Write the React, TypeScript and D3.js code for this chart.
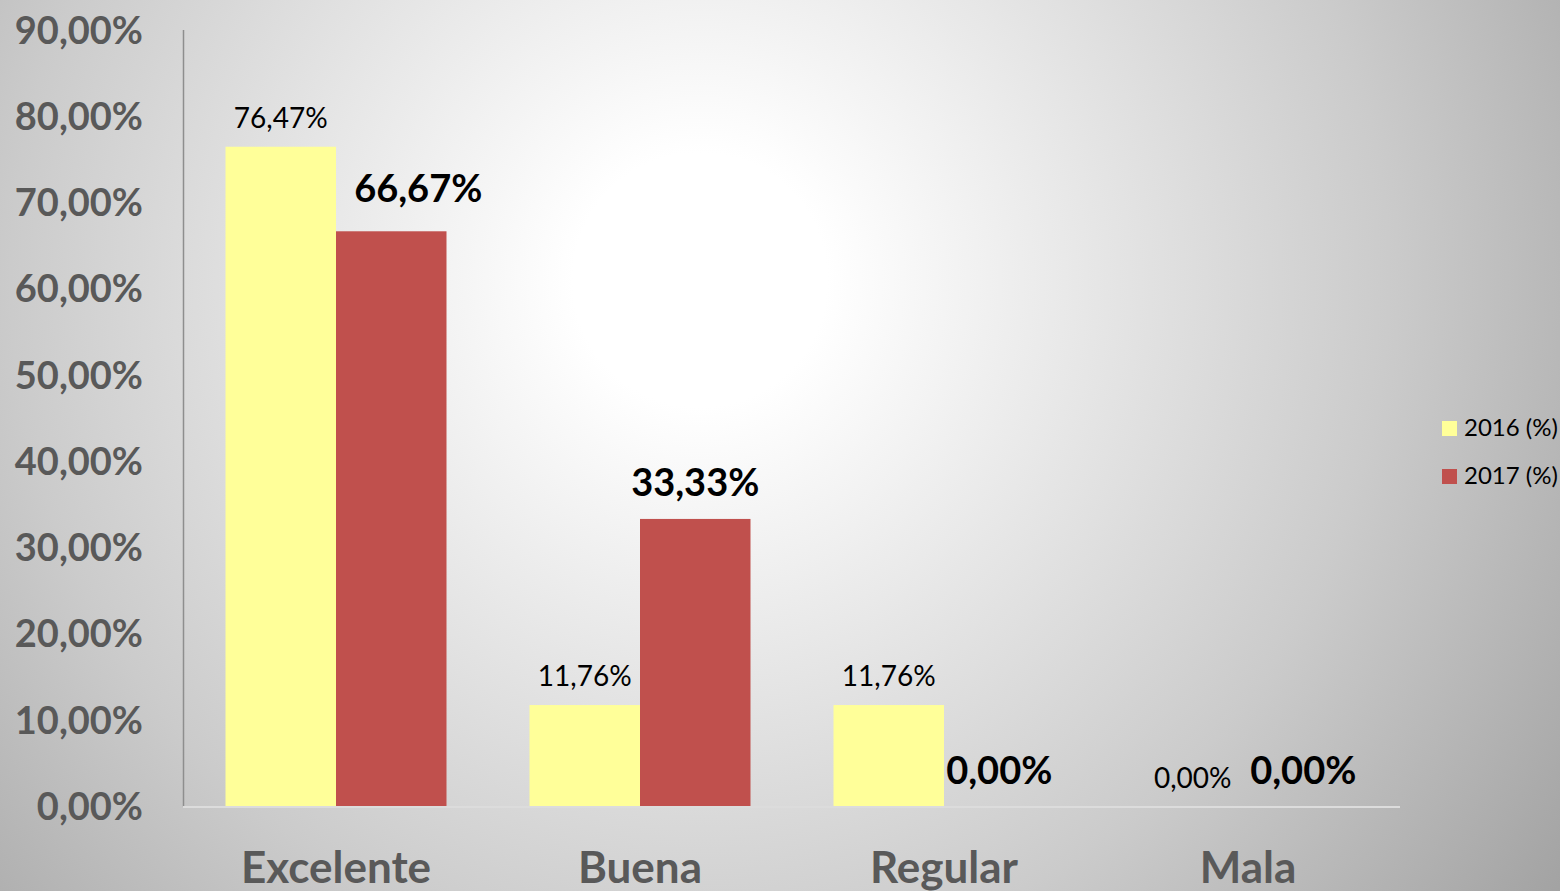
import React from "react";
import * as d3 from "d3";

const categories = ["Excelente", "Buena", "Regular", "Mala"];
const seriesNames = ["2016 (%)", "2017 (%)"];
const values2016 = [76.47, 11.76, 11.76, 0];
const values2017 = [66.67, 33.33, 0, 0];
const yTicks = [0, 10, 20, 30, 40, 50, 60, 70, 80, 90];
const colors = ["#FFFF99", "#C0504D"];

const W = 1560;
const H = 891;
const FONT = "Lato, 'Open Sans', sans-serif";

const fmt = (v: number) => v.toFixed(2).replace(".", ",") + "%";

export default function App() {
  const x0 = d3.scaleBand<string>().domain(categories).range([184, 1400]).padding(0);
  const x1 = d3
    .scaleBand<string>()
    .domain(seriesNames)
    .range([0, x0.bandwidth()])
    .paddingInner(0)
    .paddingOuter(0.3756);
  const y = d3.scaleLinear().domain([0, 90]).range([806.5, 30]);

  const series = [values2016, values2017];

  // manual nudge for one label (as in the reference)
  const labelNudge = (si: number, ci: number) =>
    si === 1 && ci === 0 ? { dx: 27, dy: -6 } : { dx: 0, dy: 0 };

  return (
    <svg
      width={W}
      height={H}
      style={{ position: "absolute", left: 0, top: 0, display: "block" }}
    >
      <defs>
        <radialGradient id="bg" gradientUnits="userSpaceOnUse" cx={700} cy={280} r={1060}>
          <stop offset="0" stopColor="#ffffff" />
          <stop offset="0.12" stopColor="#ffffff" />
          <stop offset="0.65" stopColor="#cbcbcb" />
          <stop offset="1" stopColor="#a2a2a2" />
        </radialGradient>
      </defs>
      <rect x={0} y={0} width={W} height={H} fill="url(#bg)" />

      {/* y tick labels */}
      {yTicks.map((t) => (
        <text
          key={t}
          x={143}
          y={y(t) + 13.5}
          textAnchor="end"
          fontFamily={FONT}
          fontWeight="bold"
          fontSize={38}
          fill="#595959"
        >
          {fmt(t)}
        </text>
      ))}

      {/* bars */}
      {categories.map((c, ci) =>
        series.map((vals, si) => {
          const bx = (x0(c) as number) + (x1(seriesNames[si]) as number);
          const v = vals[ci];
          if (v <= 0) return null;
          return (
            <rect
              key={c + si}
              x={bx}
              y={y(v)}
              width={x1.bandwidth()}
              height={y(0) - y(v)}
              fill={colors[si]}
            />
          );
        })
      )}

      {/* axes */}
      <line x1={183.5} x2={183.5} y1={30} y2={806.5} stroke="#8e8e8e" strokeWidth={1.5} />
      <line x1={183} x2={1400} y1={807} y2={807} stroke="#dcdcdc" strokeWidth={2} />

      {/* data labels */}
      {categories.map((c, ci) =>
        series.map((vals, si) => {
          const bx = (x0(c) as number) + (x1(seriesNames[si]) as number) + x1.bandwidth() / 2;
          const v = vals[ci];
          const n = labelNudge(si, ci);
          const bold = si === 1;
          return (
            <text
              key={"l" + c + si}
              x={bx + n.dx}
              y={y(v) - (bold ? 23 : 19) + n.dy}
              textAnchor="middle"
              fontFamily={FONT}
              fontWeight={bold ? "bold" : "normal"}
              fontSize={bold ? 38 : 28}
              fill="#000"
            >
              {fmt(v)}
            </text>
          );
        })
      )}

      {/* category labels */}
      {categories.map((c) => (
        <text
          key={"c" + c}
          x={(x0(c) as number) + x0.bandwidth() / 2}
          y={883}
          textAnchor="middle"
          fontFamily={FONT}
          fontWeight="bold"
          fontSize={44}
          fill="#595959"
        >
          {c}
        </text>
      ))}

      {/* legend */}
      {seriesNames.map((s, i) => (
        <g key={s} transform={`translate(1442, ${421 + i * 48})`}>
          <rect x={0} y={0} width={15} height={15} fill={colors[i]} />
          <text x={22} y={15} fontFamily={FONT} fontSize={24} fill="#000">
            {s}
          </text>
        </g>
      ))}
    </svg>
  );
}
